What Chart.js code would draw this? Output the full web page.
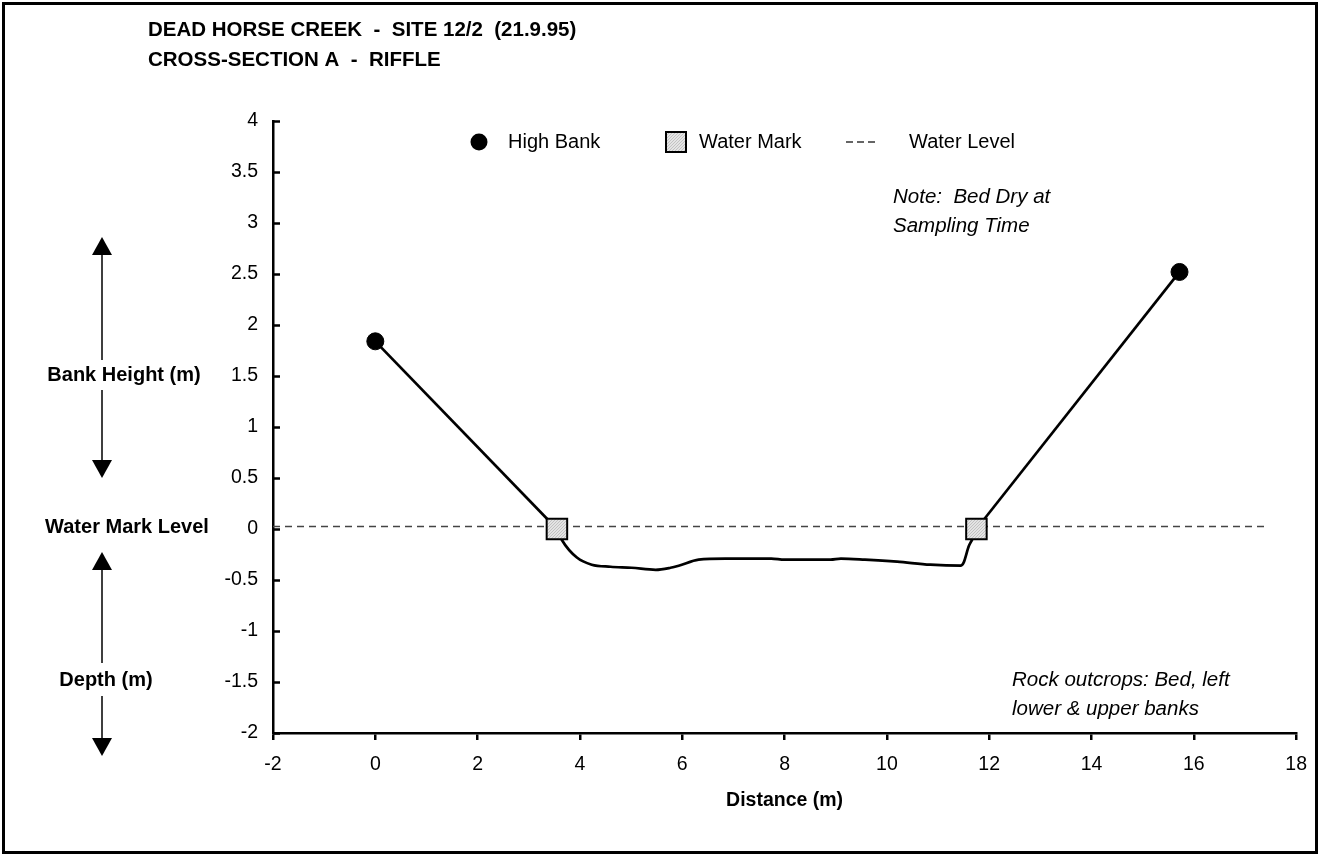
<!DOCTYPE html>
<html>
<head>
<meta charset="utf-8">
<title>Dead Horse Creek - Cross-section A</title>
<script src="https://cdn.jsdelivr.net/npm/chart.js@4/dist/chart.umd.min.js"></script>
<style>
  body { margin: 0; background: #fff; }
  #wrap { width: 1320px; height: 856px; }
</style>
</head>
<body>
<div id="wrap"><canvas id="chart" width="1320" height="856"></canvas></div>
<script>
// values
const titleLines = ["DEAD HORSE CREEK  -  SITE 12/2  (21.9.95)", "CROSS-SECTION A  -  RIFFLE"];

const highBankX = [0, 15.72];
const highBankY = [1.84, 2.52];

const waterMarkX = [3.55, 11.75];
const waterMarkY = [0, 0];

const waterLevelX = [-2, 17.4];
const waterLevelY = [0.025, 0.025];

const bedX = [3.55, 3.65, 3.94, 4.23, 4.6, 5.01, 5.48, 5.77, 5.93, 6.32, 6.84, 7.74, 8.0, 8.9, 9.1, 9.57, 10.2, 10.85, 11.44, 11.5, 11.6, 11.67, 11.75];
const bedY = [0, -0.11, -0.28, -0.35, -0.37, -0.38, -0.4, -0.38, -0.36, -0.3, -0.29, -0.29, -0.3, -0.3, -0.29, -0.3, -0.32, -0.35, -0.36, -0.33, -0.17, -0.1, 0];

const xTicks = [-2, 0, 2, 4, 6, 8, 10, 12, 14, 16, 18];
const yTicks = [-2, -1.5, -1, -0.5, 0, 0.5, 1, 1.5, 2, 2.5, 3, 3.5, 4];

const legendLabels = ["High Bank", "Water Mark", "Water Level"];
const sideLabels = ["Bank Height (m)", "Water Mark Level", "Depth (m)"];
const noteLines = ["Note:  Bed Dry at", "Sampling Time"];
const rockLines = ["Rock outcrops: Bed, left", "lower & upper banks"];

function toPoints(xs, ys) {
  return xs.map((x, i) => ({ x: x, y: ys[i] }));
}

// dotted grey fill of the water mark squares
function makeDotPattern() {
  const c = document.createElement("canvas");
  c.width = 3;
  c.height = 3;
  const g = c.getContext("2d");
  g.fillStyle = "#e4e4e4";
  g.fillRect(0, 0, 3, 3);
  g.fillStyle = "#c2c2c2";
  g.fillRect(0, 0, 1, 1);
  g.fillRect(2, 1, 1, 1);
  g.fillRect(1, 2, 1, 1);
  return document.getElementById("chart").getContext("2d").createPattern(c, "repeat");
}
const dotFill = makeDotPattern();

const FONT = "'Liberation Sans', Arial, sans-serif";

const decorPlugin = {
  id: "decor",
  afterDraw(chart) {
    const ctx = chart.ctx;
    const xs = chart.scales.x;
    const ys = chart.scales.y;
    ctx.save();

    // outer frame
    ctx.strokeStyle = "#000";
    ctx.lineWidth = 3;
    ctx.strokeRect(3.5, 3.5, 1313, 849);

    // inward ticks on the y axis
    ctx.lineWidth = 2.5;
    ctx.beginPath();
    yTicks.forEach(v => {
      const py = Math.round(ys.getPixelForValue(v)) + 0.5;
      ctx.moveTo(xs.left, py);
      ctx.lineTo(xs.left + 7, py);
    });
    ctx.stroke();

    // title
    ctx.fillStyle = "#000";
    ctx.textBaseline = "middle";
    ctx.textAlign = "left";
    ctx.font = "bold 20.5px " + FONT;
    ctx.fillText(titleLines[0], 148, 30);
    ctx.fillText(titleLines[1], 148, 60);

    // legend
    const ly = 142;
    ctx.font = "20px " + FONT;
    ctx.beginPath();
    ctx.arc(479, ly, 8.5, 0, Math.PI * 2);
    ctx.fill();
    ctx.fillText(legendLabels[0], 508, ly);

    ctx.fillStyle = dotFill;
    ctx.fillRect(666, ly - 10, 20, 20);
    ctx.lineWidth = 2;
    ctx.strokeRect(666, ly - 10, 20, 20);
    ctx.fillStyle = "#000";
    ctx.fillText(legendLabels[1], 699, ly);

    ctx.strokeStyle = "#333";
    ctx.lineWidth = 1.5;
    ctx.setLineDash([7, 4]);
    ctx.beginPath();
    ctx.moveTo(846, ly);
    ctx.lineTo(875, ly);
    ctx.stroke();
    ctx.setLineDash([]);
    ctx.fillText(legendLabels[2], 909, ly);

    // notes
    ctx.font = "italic 20.5px " + FONT;
    ctx.fillText(noteLines[0], 893, 197);
    ctx.fillText(noteLines[1], 893, 226);
    ctx.fillText(rockLines[0], 1012, 680);
    ctx.fillText(rockLines[1], 1012, 709);

    // left side annotations with arrows
    ctx.font = "bold 20px " + FONT;
    ctx.textAlign = "center";
    ctx.fillText(sideLabels[0], 124, 375);
    ctx.fillText(sideLabels[1], 127, 527);
    ctx.fillText(sideLabels[2], 106, 680);

    const ax = 102;
    ctx.strokeStyle = "#000";
    ctx.lineWidth = 1.5;
    ctx.beginPath();
    ctx.moveTo(ax, 254); ctx.lineTo(ax, 360);
    ctx.moveTo(ax, 390); ctx.lineTo(ax, 462);
    ctx.moveTo(ax, 570); ctx.lineTo(ax, 663);
    ctx.moveTo(ax, 696); ctx.lineTo(ax, 738);
    ctx.stroke();
    const head = (tipY, dir) => {
      ctx.beginPath();
      ctx.moveTo(ax, tipY);
      ctx.lineTo(ax - 10, tipY - dir * 18);
      ctx.lineTo(ax + 10, tipY - dir * 18);
      ctx.closePath();
      ctx.fill();
    };
    head(237, -1);
    head(478, 1);
    head(552, -1);
    head(756, 1);

    ctx.restore();
  }
};

new Chart(document.getElementById("chart"), {
  type: "scatter",
  data: {
    datasets: [
      {
        label: legendLabels[1],
        data: toPoints(waterMarkX, waterMarkY),
        pointStyle: "rect",
        pointRadius: 14.5,
        pointBackgroundColor: dotFill,
        pointBorderColor: "#000",
        pointBorderWidth: 2,
        showLine: false,
        order: 0
      },
      {
        label: legendLabels[0],
        data: toPoints(highBankX, highBankY),
        pointStyle: "circle",
        pointRadius: 8.5,
        pointBackgroundColor: "#000",
        pointBorderColor: "#000",
        showLine: false,
        order: 1
      },
      {
        label: "Left bank",
        data: toPoints([highBankX[0], waterMarkX[0]], [highBankY[0], waterMarkY[0]]),
        showLine: true,
        borderColor: "#000",
        borderWidth: 2.7,
        pointRadius: 0,
        order: 2
      },
      {
        label: "Right bank",
        data: toPoints([waterMarkX[1], highBankX[1]], [waterMarkY[1], highBankY[1]]),
        showLine: true,
        borderColor: "#000",
        borderWidth: 2.7,
        pointRadius: 0,
        order: 2
      },
      {
        label: "Bed",
        data: toPoints(bedX, bedY),
        showLine: true,
        borderColor: "#000",
        borderWidth: 2.7,
        pointRadius: 0,
        cubicInterpolationMode: "monotone",
        order: 2
      },
      {
        label: legendLabels[2],
        data: toPoints(waterLevelX, waterLevelY),
        showLine: true,
        borderColor: "#444",
        borderWidth: 1.5,
        borderDash: [7, 5],
        pointRadius: 0,
        order: 3
      }
    ]
  },
  options: {
    responsive: false,
    animation: false,
    layout: { padding: { top: 121, right: 20, left: 0, bottom: 0 } },
    plugins: {
      legend: { display: false },
      tooltip: { enabled: false }
    },
    scales: {
      x: {
        type: "linear",
        min: -2,
        max: 18,
        afterBuildTicks: scale => { scale.ticks = xTicks.map(v => ({ value: v })); },
        afterFit: scale => { scale.height = 123; },
        ticks: {
          color: "#000",
          font: { family: FONT, size: 19.5 },
          padding: 13,
          maxRotation: 0,
          callback: v => String(v)
        },
        grid: {
          drawOnChartArea: false,
          drawTicks: true,
          tickLength: 7,
          color: "#000",
          lineWidth: 2.5
        },
        border: { color: "#000", width: 2.5 },
        title: {
          display: true,
          text: "Distance (m)",
          color: "#000",
          font: { family: FONT, size: 19.5, weight: "bold" },
          padding: { top: 0, bottom: 44 }
        }
      },
      y: {
        type: "linear",
        min: -2,
        max: 4,
        afterBuildTicks: scale => { scale.ticks = yTicks.map(v => ({ value: v })); },
        afterFit: scale => { scale.width = 273; },
        ticks: {
          color: "#000",
          font: { family: FONT, size: 19.5 },
          padding: 15,
          callback: v => String(v)
        },
        grid: { display: false, drawTicks: false },
        border: { color: "#000", width: 2.5 }
      }
    }
  },
  plugins: [decorPlugin]
});
</script>
</body>
</html>
